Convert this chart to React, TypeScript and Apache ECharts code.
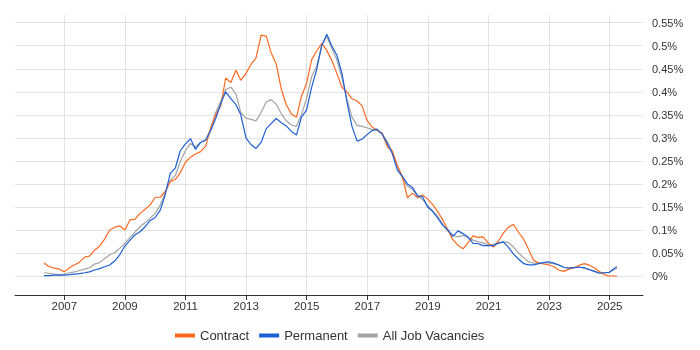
import React, { useEffect, useRef } from "react";
import * as echarts from "echarts";

// Decimal years (two-month steps)
const dates = [
  2006.33, 2006.5, 2006.67, 2006.83,
  2007, 2007.17, 2007.33, 2007.5, 2007.67, 2007.83,
  2008, 2008.17, 2008.33, 2008.5, 2008.67, 2008.83,
  2009, 2009.17, 2009.33, 2009.5, 2009.67, 2009.83,
  2010, 2010.17, 2010.33, 2010.5, 2010.67, 2010.83,
  2011, 2011.17, 2011.33, 2011.5, 2011.67, 2011.83,
  2012, 2012.17, 2012.33, 2012.5, 2012.67, 2012.83,
  2013, 2013.17, 2013.33, 2013.5, 2013.67, 2013.83,
  2014, 2014.17, 2014.33, 2014.5, 2014.67, 2014.83,
  2015, 2015.17, 2015.33, 2015.5, 2015.67, 2015.83,
  2016, 2016.17, 2016.33, 2016.5, 2016.67, 2016.83,
  2017, 2017.17, 2017.33, 2017.5, 2017.67, 2017.83,
  2018, 2018.17, 2018.33, 2018.5, 2018.67, 2018.83,
  2019, 2019.17, 2019.33, 2019.5, 2019.67, 2019.83,
  2020, 2020.17, 2020.33, 2020.5, 2020.67, 2020.83,
  2021, 2021.17, 2021.33, 2021.5, 2021.67, 2021.83,
  2022, 2022.17, 2022.33, 2022.5, 2022.67, 2022.83,
  2023, 2023.17, 2023.33, 2023.5, 2023.67, 2023.83,
  2024, 2024.17, 2024.33, 2024.5, 2024.67, 2024.83,
  2025, 2025.17, 2025.25,
];

// Values in percent
const contract = [
  0.028, 0.020, 0.017, 0.015,
  0.009, 0.018, 0.024, 0.030, 0.041, 0.043,
  0.056, 0.065, 0.080, 0.100, 0.106, 0.109,
  0.100, 0.122, 0.123, 0.136, 0.145, 0.154,
  0.171, 0.171, 0.183, 0.205, 0.210, 0.224,
  0.247, 0.258, 0.265, 0.270, 0.282, 0.320,
  0.350, 0.370, 0.430, 0.420, 0.447, 0.425,
  0.440, 0.460, 0.473, 0.523, 0.521, 0.485,
  0.460, 0.405, 0.372, 0.352, 0.345, 0.390,
  0.418, 0.470, 0.488, 0.505, 0.490, 0.469,
  0.440, 0.410, 0.400, 0.385, 0.380, 0.370,
  0.338, 0.323, 0.317, 0.310, 0.280, 0.272,
  0.240, 0.215, 0.170, 0.180, 0.170, 0.176,
  0.167, 0.155, 0.140, 0.122, 0.100, 0.079,
  0.067, 0.059, 0.072, 0.087, 0.084, 0.085,
  0.072, 0.063, 0.075, 0.093, 0.106, 0.112,
  0.095, 0.080, 0.058, 0.034, 0.028, 0.026,
  0.024, 0.020, 0.013, 0.010, 0.015, 0.018,
  0.023, 0.027, 0.024, 0.018, 0.010, 0.003,
  0.000, 0.000, 0.000,
];

const permanent = [
  0.001, 0.001, 0.002, 0.002,
  0.002, 0.003, 0.004, 0.005, 0.007, 0.009,
  0.013, 0.016, 0.020, 0.024, 0.033, 0.046,
  0.065, 0.078, 0.089, 0.096, 0.107, 0.120,
  0.127, 0.143, 0.176, 0.223, 0.235, 0.272,
  0.287, 0.298, 0.275, 0.290, 0.295, 0.315,
  0.342, 0.375, 0.400, 0.385, 0.372, 0.350,
  0.300, 0.285, 0.277, 0.290, 0.320, 0.331,
  0.342, 0.333, 0.326, 0.314, 0.306, 0.345,
  0.360, 0.410, 0.447, 0.500, 0.525, 0.500,
  0.480, 0.440, 0.380, 0.325, 0.293, 0.297,
  0.307, 0.316, 0.319, 0.308, 0.287, 0.266,
  0.230, 0.216, 0.200, 0.192, 0.174, 0.172,
  0.150, 0.140, 0.126, 0.110, 0.100, 0.086,
  0.098, 0.092, 0.085, 0.071, 0.070, 0.066,
  0.066, 0.066, 0.071, 0.074, 0.062, 0.048,
  0.037, 0.027, 0.024, 0.024, 0.027, 0.029,
  0.031, 0.028, 0.024, 0.019, 0.017, 0.018,
  0.019, 0.018, 0.014, 0.010, 0.006, 0.007,
  0.008, 0.017, 0.020,
];

const allJobs = [
  0.007, 0.006, 0.004, 0.003,
  0.004, 0.007, 0.009, 0.012, 0.015, 0.018,
  0.026, 0.029, 0.038, 0.046, 0.051, 0.060,
  0.071, 0.084, 0.095, 0.107, 0.116, 0.125,
  0.136, 0.154, 0.180, 0.207, 0.219, 0.248,
  0.272, 0.288, 0.280, 0.290, 0.296, 0.320,
  0.355, 0.380, 0.405, 0.410, 0.395, 0.355,
  0.343, 0.340, 0.337, 0.355, 0.378, 0.383,
  0.373, 0.352, 0.337, 0.328, 0.325, 0.350,
  0.385, 0.433, 0.455, 0.500, 0.520, 0.495,
  0.470, 0.430, 0.385, 0.345, 0.327, 0.325,
  0.322, 0.318, 0.316, 0.308, 0.292, 0.270,
  0.238, 0.212, 0.195, 0.188, 0.173, 0.166,
  0.153, 0.141, 0.130, 0.112, 0.097, 0.089,
  0.085, 0.088, 0.083, 0.078, 0.074, 0.072,
  0.068, 0.069, 0.072, 0.074, 0.073, 0.063,
  0.050, 0.040, 0.031, 0.028, 0.028, 0.029,
  0.028, 0.027, 0.024, 0.019, 0.017, 0.018,
  0.019, 0.017, 0.014, 0.011, 0.007, 0.007,
  0.008, 0.014, 0.017,
];

const seriesNames = ["Contract", "Permanent", "All Job Vacancies"];
const colors = { Contract: "#ff6a21", Permanent: "#1d5fd6", "All Job Vacancies": "#a3a3a3" };

const FONT = "'Liberation Sans', Arial, sans-serif";

export default function App() {
  const ref = useRef<HTMLDivElement>(null);

  useEffect(() => {
    if (!ref.current) return;
    const chart = echarts.init(ref.current, undefined, { renderer: "svg" });
    const pair = (vals: number[]) => dates.map((d, i) => [d, vals[i]]);
    const gridColor = "#e2e2e2";

    const mkLine = (name: string, vals: number[]) => ({
      name,
      type: "line",
      xAxisIndex: 0,
      yAxisIndex: 0,
      data: pair(vals),
      showSymbol: false,
      symbol: "none",
      lineStyle: { width: 1.2, color: (colors as any)[name] },
      itemStyle: { color: (colors as any)[name] },
    });

    chart.setOption({
      animation: false,
      textStyle: { fontFamily: FONT },
      grid: [
        { left: 15, right: 57, top: 15, bottom: 55 },
        { left: 15, right: 57, top: 22.7, bottom: 74 },
        { left: 64.3, right: 90.3, top: 15, bottom: 55 },
      ],
      xAxis: [
        {
          gridIndex: 0,
          type: "value",
          min: 2005.372,
          max: 2026.112,
          axisLine: { show: true, onZero: false, lineStyle: { color: "#333", width: 1 } },
          axisTick: { show: false },
          axisLabel: { show: false },
          splitLine: { show: false },
        },
        { gridIndex: 1, type: "value", min: 0, max: 1, show: false },
        {
          gridIndex: 2,
          type: "value",
          min: 2007,
          max: 2025,
          interval: 2,
          axisLine: { show: false, onZero: false },
          axisTick: { show: true, length: 5, lineStyle: { color: "#333" } },
          axisLabel: {
            fontSize: 11.5,
            color: "#333",
            margin: 5,
            fontFamily: FONT,
            formatter: (v: number) => String(v),
          },
          splitLine: { show: true, lineStyle: { color: gridColor, width: 1 } },
        },
      ],
      yAxis: [
        { gridIndex: 0, type: "value", min: -0.04126, max: 0.5668, show: false },
        {
          gridIndex: 1,
          type: "value",
          position: "right",
          min: 0,
          max: 0.55,
          interval: 0.05,
          axisLine: { show: false },
          axisTick: { show: false },
          axisLabel: {
            fontSize: 11,
            color: "#333",
            margin: 9,
            fontFamily: FONT,
            formatter: (v: number) => `${+v.toFixed(2)}%`,
          },
          splitLine: { show: true, lineStyle: { color: gridColor, width: 1 } },
        },
        { gridIndex: 2, type: "value", min: 0, max: 1, show: false },
      ],
      legend: {
        data: seriesNames,
        left: 170,
        top: 324,
        icon: "rect",
        itemWidth: 20,
        itemHeight: 4,
        itemGap: 10,
        textStyle: { fontSize: 13, color: "#333", fontFamily: FONT },
      },
      series: [
        mkLine("All Job Vacancies", allJobs),
        mkLine("Contract", contract),
        mkLine("Permanent", permanent),
      ],
    });
    return () => chart.dispose();
  }, []);

  return (
    <div
      ref={ref}
      style={{ position: "fixed", left: 0, top: 0, width: 700, height: 350 }}
    />
  );
}
